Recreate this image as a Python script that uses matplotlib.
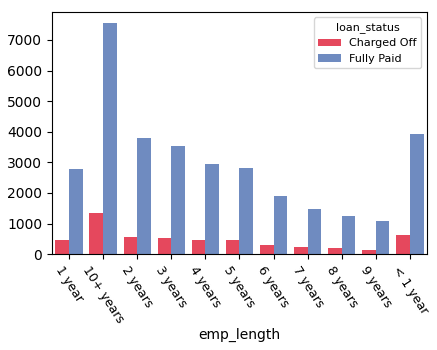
import matplotlib
matplotlib.use("Agg")
import matplotlib.pyplot as plt
import numpy as np

categories = ["1 year", "10+ years", "2 years", "3 years", "4 years", "5 years",
              "6 years", "7 years", "8 years", "9 years", "< 1 year"]
charged_off = [448, 1333, 547, 524, 448, 448, 285, 240, 186, 141, 612]
fully_paid = [2780, 7540, 3810, 3527, 2958, 2806, 1900, 1484, 1255, 1081, 3930]
series_names = ["Charged Off", "Fully Paid"]
colors = ["#E5485D", "#6F8BC0"]

fig = plt.figure(figsize=(4.37, 3.5), dpi=100)
ax = fig.add_axes([0.119, 0.274, 0.858, 0.692])

x = np.arange(len(categories))
w = 0.4
ax.bar(x - w / 2, charged_off, width=w, color=colors[0], label=series_names[0])
ax.bar(x + w / 2, fully_paid, width=w, color=colors[1], label=series_names[1])

ax.set_xlim(-0.5, len(categories) - 0.5)
ax.set_xticks(x)
ax.set_xticklabels(categories, rotation=-57, fontsize=9)
ax.tick_params(axis="y", labelsize=10)
ax.set_xlabel("emp_length", fontsize=10)
ax.xaxis.set_label_coords(0.5, -0.305)

leg = ax.legend(title="loan_status", loc="upper right", fontsize=8, title_fontsize=8)

fig.savefig("out.png", dpi=100)
